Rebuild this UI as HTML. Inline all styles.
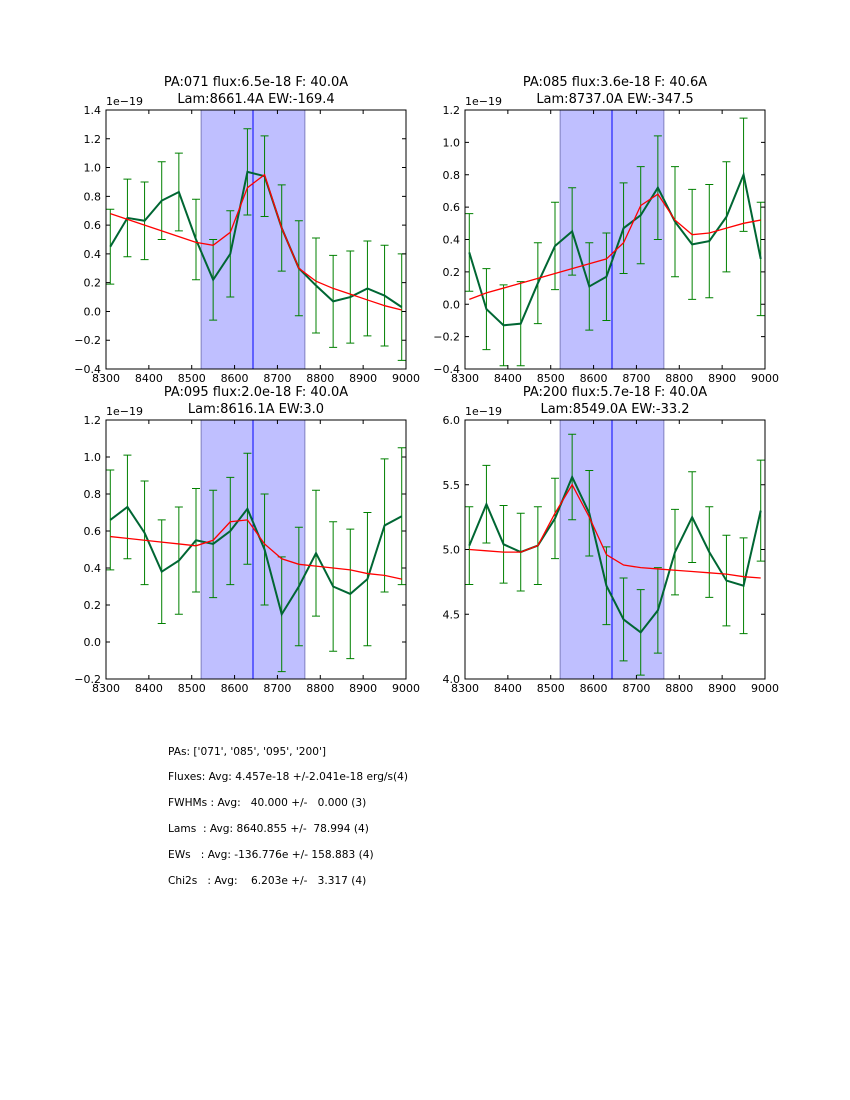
<!DOCTYPE html>
<html><head><meta charset="utf-8"><style>
body{margin:0;background:#fff;width:850px;height:1100px;overflow:hidden;font-family:"DejaVu Sans","Liberation Sans",sans-serif}
svg{position:absolute;left:0;top:0;font-family:"DejaVu Sans","Liberation Sans",sans-serif}
.info{position:absolute;left:168px;font-size:10.6px;white-space:pre;color:#000}
</style></head><body>
<svg id="c" width="850" height="1100"></svg>
<div class="info" style="top:746px">PAs: ['071', '085', '095', '200']</div>
<div class="info" style="top:771px">Fluxes: Avg: 4.457e-18 +/-2.041e-18 erg/s(4)</div>
<div class="info" style="top:797px">FWHMs : Avg:   40.000 +/-   0.000 (3)</div>
<div class="info" style="top:823px">Lams  : Avg: 8640.855 +/-  78.994 (4)</div>
<div class="info" style="top:849px">EWs   : Avg: -136.776e +/- 158.883 (4)</div>
<div class="info" style="top:875px">Chi2s   : Avg:    6.203e +/-   3.317 (4)</div>
<script>
const wavelengths=[8310,8350,8390,8430,8470,8510,8550,8590,8630,8670,8710,8750,8790,8830,8870,8910,8950,8990];
const xTicks=[8300,8400,8500,8600,8700,8800,8900,9000];
const flux071=[0.45,0.65,0.63,0.77,0.83,0.5,0.22,0.40,0.97,0.94,0.58,0.30,0.18,0.07,0.10,0.16,0.11,0.03];
const err071=[0.26,0.27,0.27,0.27,0.27,0.28,0.28,0.30,0.30,0.28,0.30,0.33,0.33,0.32,0.32,0.33,0.35,0.37];
const model071=[0.68,0.64,0.60,0.56,0.52,0.48,0.46,0.55,0.86,0.95,0.58,0.30,0.21,0.16,0.12,0.08,0.04,0.01];
const flux085=[0.32,-0.03,-0.13,-0.12,0.13,0.36,0.45,0.11,0.17,0.47,0.55,0.72,0.51,0.37,0.39,0.54,0.80,0.28];
const err085=[0.24,0.25,0.25,0.26,0.25,0.27,0.27,0.27,0.27,0.28,0.30,0.32,0.34,0.34,0.35,0.34,0.35,0.35];
const model085=[0.03,0.07,0.10,0.13,0.16,0.19,0.22,0.25,0.28,0.38,0.61,0.68,0.52,0.43,0.44,0.47,0.50,0.52];
const flux095=[0.66,0.73,0.59,0.38,0.44,0.55,0.53,0.60,0.72,0.50,0.15,0.30,0.48,0.30,0.26,0.34,0.63,0.68];
const err095=[0.27,0.28,0.28,0.28,0.29,0.28,0.29,0.29,0.30,0.30,0.31,0.32,0.34,0.35,0.35,0.36,0.36,0.37];
const model095=[0.57,0.56,0.55,0.54,0.53,0.52,0.55,0.65,0.66,0.53,0.45,0.42,0.41,0.40,0.39,0.37,0.36,0.34];
const flux200=[5.03,5.35,5.04,4.98,5.03,5.24,5.56,5.28,4.72,4.46,4.36,4.53,4.98,5.25,4.98,4.76,4.72,5.30];
const err200=[0.3,0.3,0.3,0.3,0.3,0.31,0.33,0.33,0.3,0.32,0.33,0.33,0.33,0.35,0.35,0.35,0.37,0.39];
const model200=[5.00,4.99,4.98,4.98,5.03,5.28,5.50,5.25,4.96,4.88,4.86,4.85,4.84,4.83,4.82,4.81,4.79,4.78];
const yTicks071=["-0.4","-0.2","0.0","0.2","0.4","0.6","0.8","1.0","1.2","1.4"];
const yTicks085=["-0.4","-0.2","0.0","0.2","0.4","0.6","0.8","1.0","1.2"];
const yTicks095=["-0.2","0.0","0.2","0.4","0.6","0.8","1.0","1.2"];
const yTicks200=["4.0","4.5","5.0","5.5","6.0"];
const band=[8522,8764]; const lineCenter=8643;
const NS="http://www.w3.org/2000/svg";
const svg=document.getElementById('c');
function mk(tag,attrs,parent,text){const e=document.createElementNS(NS,tag);for(const k in attrs)e.setAttribute(k,attrs[k]);if(text!==undefined)e.textContent=text;(parent||svg).appendChild(e);return e;}
function panel(name,L,T,ymin,ymax,yt,flux,err,model,t1,t2){
  const W=300,H=259;
  const g=mk('g',{});
  
  
  const sx=v=>L+(v-8300)/700*W, sy=v=>T+H-(v-ymin)/(ymax-ymin)*H;
  const b=mk('rect',{x:sx(band[0]),y:T,width:sx(band[1])-sx(band[0]),height:H,fill:'#bfbfff',stroke:'#8080c0','stroke-width':1},g);
  
  
  const cl=mk('line',{x1:sx(lineCenter),x2:sx(lineCenter),y1:T,y2:T+H,stroke:'#0000ff','stroke-width':1},g);
  
  
  wavelengths.forEach((w,i)=>{const x=sx(w),y1=sy(flux[i]-err[i]),y2=sy(flux[i]+err[i]);
    const eb=mk('path',{d:`M${x},${y1}V${y2}M${x-4},${y1}H${x+4}M${x-4},${y2}H${x+4}`,stroke:'#008000','stroke-width':1,fill:'none'},g);
    
    });
  const dl=mk('polyline',{points:wavelengths.map((w,i)=>sx(w)+','+sy(flux[i])).join(' '),fill:'none',stroke:'#006633','stroke-width':2},g);
  
  
  const ml=mk('polyline',{points:wavelengths.map((w,i)=>sx(w)+','+sy(model[i])).join(' '),fill:'none',stroke:'#ff0000','stroke-width':1.3},g);
  
  
  mk('rect',{x:L,y:T,width:W,height:H,fill:'none',stroke:'#000','stroke-width':1},g);
  xTicks.forEach(v=>{const x=sx(v);mk('path',{d:`M${x},${T+H}v-4M${x},${T}v4`,stroke:'#000'},g);
    const t=mk('text',{x:x,y:T+H+13,'text-anchor':'middle','font-size':11},g,v);
    
    });
  yt.forEach(s=>{const y=sy(parseFloat(s));mk('path',{d:`M${L},${y}h4M${L+W},${y}h-4`,stroke:'#000'},g);
    const t=mk('text',{x:L-5,y:y+4,'text-anchor':'end','font-size':11},g,s.replace('-','\u2212'));
    
    });
  const ex=mk('text',{x:L,y:T-5,'font-size':11},g,'1e\u221219');
  
  
  const a=mk('text',{x:L+W/2,y:T-24,'text-anchor':'middle','font-size':13},g,t1);
  
  
  const c=mk('text',{x:L+W/2,y:T-7,'text-anchor':'middle','font-size':13},g,t2);
  
  
}
panel('panel-pa071',106,110,-0.4,1.4,yTicks071,flux071,err071,model071,'PA:071 flux:6.5e-18 F: 40.0A','Lam:8661.4A EW:-169.4');
panel('panel-pa085',465,110,-0.4,1.2,yTicks085,flux085,err085,model085,'PA:085 flux:3.6e-18 F: 40.6A','Lam:8737.0A EW:-347.5');
panel('panel-pa095',106,420,-0.2,1.2,yTicks095,flux095,err095,model095,'PA:095 flux:2.0e-18 F: 40.0A','Lam:8616.1A EW:3.0');
panel('panel-pa200',465,420,4.0,6.0,yTicks200,flux200,err200,model200,'PA:200 flux:5.7e-18 F: 40.0A','Lam:8549.0A EW:-33.2');
</script>
</body></html>
